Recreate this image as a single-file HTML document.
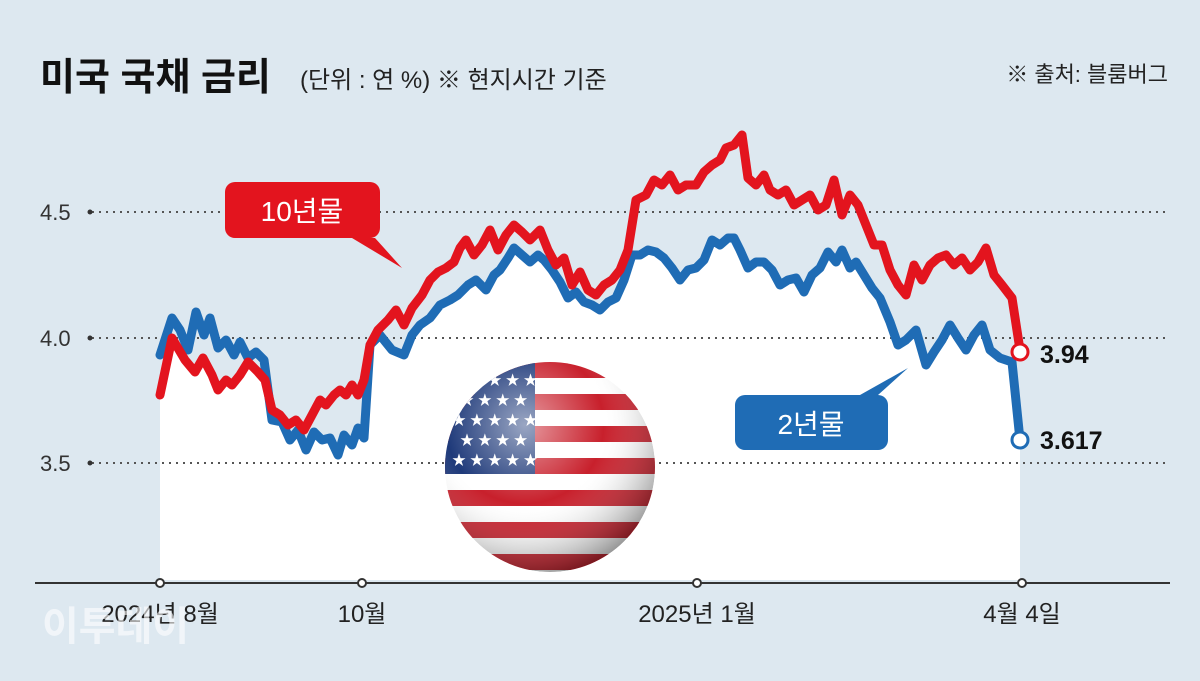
<!DOCTYPE html><html><head><meta charset="utf-8"><style>
body{margin:0;width:1200px;height:681px;background:#dde8f0;overflow:hidden;font-family:"Liberation Sans","Noto Sans CJK KR",sans-serif}
</style></head><body>
<svg width="1200" height="681" viewBox="0 0 1200 681" xmlns="http://www.w3.org/2000/svg" style="position:absolute;left:0;top:0">
<defs>
<clipPath id="cr"><polygon id="rp" points=""/></clipPath>
<radialGradient id="sh" cx="38%" cy="30%" r="75%"><stop offset="0" stop-color="#fff" stop-opacity="0.55"/><stop offset="0.5" stop-color="#fff" stop-opacity="0"/><stop offset="1" stop-color="#000" stop-opacity="0.45"/></radialGradient>
<clipPath id="ball"><circle cx="550" cy="467" r="105"/></clipPath>
</defs>
<text x="40" y="90" font-size="38" font-weight="bold" fill="#111">미국 국채 금리</text>
<text x="300" y="88" font-size="24" fill="#222">(단위 : 연 %)  ※ 현지시간 기준</text>
<text x="1168" y="82" font-size="22" fill="#222" text-anchor="end">※ 출처: 블룸버그</text>
<g id="fills"></g>
<g stroke="#555" stroke-width="2" stroke-dasharray="2 5"><line x1="92" y1="212" x2="1170" y2="212"/><line x1="92" y1="338" x2="1170" y2="338"/><line x1="92" y1="463" x2="1170" y2="463"/></g>
<g font-size="22" fill="#333"><text x="40" y="220">4.5</text><text x="40" y="346">4.0</text><text x="40" y="471">3.5</text></g>
<g fill="#333"><circle cx="90" cy="212" r="2.5"/><circle cx="90" cy="338" r="2.5"/><circle cx="90" cy="463" r="2.5"/></g>
<line x1="35" y1="583" x2="1170" y2="583" stroke="#333" stroke-width="2"/>
<g fill="#fff" stroke="#333" stroke-width="2"><circle cx="160" cy="583" r="4"/><circle cx="362" cy="583" r="4"/><circle cx="697" cy="583" r="4"/><circle cx="1022" cy="583" r="4"/></g>
<g font-size="24" fill="#222" text-anchor="middle"><text x="160" y="622">2024년 8월</text><text x="362" y="622">10월</text><text x="697" y="622">2025년 1월</text><text x="1022" y="622">4월 4일</text></g>
<text x="42" y="640" font-size="40" font-weight="bold" fill="#fff" opacity="0.6">이투데이</text>
<g clip-path="url(#ball)">
<rect x="440" y="360" width="220" height="220" fill="#fff"/>
<g fill="#c8202c"><rect x="440" y="362" width="220" height="16"/><rect x="440" y="394" width="220" height="16"/><rect x="440" y="426" width="220" height="16"/><rect x="440" y="458" width="220" height="16"/><rect x="440" y="490" width="220" height="16"/><rect x="440" y="522" width="220" height="16"/><rect x="440" y="554" width="220" height="16"/></g>
<rect x="440" y="360" width="95" height="114" fill="#1f3a7a"/>
<g fill="#fff" font-size="14"><text x="452" y="385">★ ★ ★ ★ ★</text><text x="460" y="405">★ ★ ★ ★</text><text x="452" y="425">★ ★ ★ ★ ★</text><text x="460" y="445">★ ★ ★ ★</text><text x="452" y="465">★ ★ ★ ★ ★</text></g>
<circle cx="550" cy="467" r="105" fill="url(#sh)"/>
</g>
<g id="lines"></g>
<path d="M235 182 H370 a10 10 0 0 1 10 10 V228 a10 10 0 0 1 -10 10 H375 L402 268 L352 238 H235 a10 10 0 0 1 -10 -10 V192 a10 10 0 0 1 10 -10Z" fill="#e3141e"/>
<text x="302" y="221" font-size="28" fill="#fff" text-anchor="middle">10년물</text>
<path d="M745 395 H860 L908 368 L878 395 a10 10 0 0 1 10 10 V440 a10 10 0 0 1 -10 10 H745 a10 10 0 0 1 -10 -10 V405 a10 10 0 0 1 10 -10Z" fill="#1f6cb5"/>
<text x="811" y="434" font-size="28" fill="#fff" text-anchor="middle">2년물</text>
<g font-size="25" font-weight="bold" fill="#111"><text x="1040" y="363">3.94</text><text x="1040" y="449">3.617</text></g>
</svg>
<script>
const R=[[160,395],[172,338],[185,360],[195,372],[203,358],[212,375],[218,390],[226,380],[232,385],[240,375],[248,362],[258,372],[265,380],[272,410],[280,415],[288,425],[296,420],[304,430],[312,415],[320,400],[326,405],[334,395],[340,390],[346,395],[352,385],[358,395],[364,380],[370,345],[378,330],[388,320],[396,310],[404,325],[412,308],[422,295],[430,280],[438,272],[446,268],[454,262],[460,248],[466,240],[474,255],[482,245],[490,230],[498,250],[506,235],[514,225],[522,232],[530,240],[540,230],[548,250],[556,265],[564,258],[572,285],[580,272],[588,290],[596,295],[604,285],[612,280],[620,270],[628,250],[636,200],[646,195],[654,180],[662,185],[670,175],[678,190],[686,185],[696,185],[704,172],[712,165],[720,160],[726,148],[734,145],[742,135],[748,178],[756,185],[764,175],[770,190],[778,195],[786,190],[794,205],[802,200],[810,195],[818,210],[826,205],[834,180],[842,215],[850,195],[858,205],[866,225],[874,245],[882,245],[890,270],[898,285],[906,295],[914,265],[922,280],[930,265],[938,258],[946,255],[954,265],[962,258],[970,270],[978,262],[986,248],[994,275],[1002,285],[1012,298],[1020,350]];
const B=[[160,355],[172,318],[180,330],[188,350],[196,312],[204,335],[210,318],[218,348],[226,340],[234,355],[240,342],[248,358],[256,352],[264,360],[272,420],[282,422],[290,440],[298,430],[306,450],[314,432],[322,440],[330,438],[338,455],[344,435],[352,445],[358,428],[364,438],[370,345],[380,335],[392,350],[404,355],[412,335],[420,325],[430,318],[440,305],[450,300],[458,295],[468,285],[476,280],[486,290],[494,275],[500,270],[508,258],[514,248],[522,255],[530,262],[538,255],[544,260],[552,270],[560,282],[568,298],[576,292],[584,302],[592,305],[600,310],[608,302],[616,298],[624,280],[632,255],[640,255],[648,250],[656,252],[664,258],[672,268],[680,280],[688,270],[696,268],[704,260],[712,240],[720,245],[728,238],[734,238],[740,250],[748,268],[756,262],[764,262],[772,270],[780,285],[788,280],[796,278],[804,292],[812,275],[820,268],[828,252],[836,262],[842,250],[850,268],[856,262],[864,275],[872,288],[880,298],[890,322],[898,345],[906,340],[916,330],[926,365],[934,352],[942,340],[950,325],[958,338],[966,350],[974,335],[982,325],[990,350],[1000,358],[1012,362],[1020,440]];
const s=a=>a.map(p=>p.join(',')).join(' ');
const NS='http://www.w3.org/2000/svg';
document.getElementById('rp').setAttribute('points',s(R)+' 1020,580 160,580');
const f=document.getElementById('fills');
let bp=document.createElementNS(NS,'polygon');bp.setAttribute('points',s(B)+' 1020,580 160,580');bp.setAttribute('fill','#fff');bp.setAttribute('clip-path','url(#cr)');f.appendChild(bp);
const l=document.getElementById('lines');
for(const [d,c] of [[B,'#1f6cb5'],[R,'#e3141e']]){let p=document.createElementNS(NS,'polyline');p.setAttribute('points',s(d));p.setAttribute('fill','none');p.setAttribute('stroke',c);p.setAttribute('stroke-width','9');p.setAttribute('stroke-linejoin','round');p.setAttribute('stroke-linecap','round');l.appendChild(p);}
for(const [x,y,c] of [[1020,352,'#e3141e'],[1020,440,'#1f6cb5']]){let e=document.createElementNS(NS,'circle');e.setAttribute('cx',x);e.setAttribute('cy',y);e.setAttribute('r',8);e.setAttribute('fill','#fff');e.setAttribute('stroke',c);e.setAttribute('stroke-width',3);l.appendChild(e);}
</script>
</body></html>
